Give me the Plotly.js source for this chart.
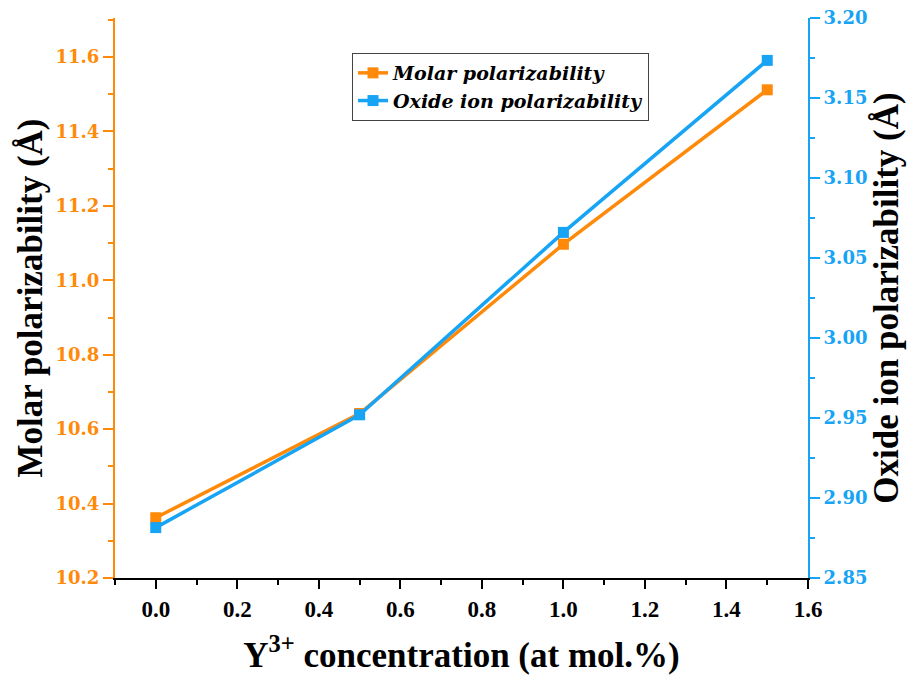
<!DOCTYPE html>
<html>
<head>
<meta charset="utf-8">
<script src="https://cdn.plot.ly/plotly-3.0.1.min.js"></script>
<style>html,body{margin:0;padding:0;background:#fff;}#chart{width:916px;height:676px;}</style>
</head>
<body>
<div id="chart"></div>
<script>
var concentration = [0.0, 0.5, 1.0, 1.5];
var molarPolarizability = [10.362, 10.642, 11.097, 11.512];
var oxidePolarizability = [2.8815, 2.952, 3.066, 3.1735];
var seriesNames = ["Molar polarizability", "Oxide ion polarizability"];

var ORANGE = "#FF8A0A";
var BLUE = "#17A4F5";
var SERIF = "Liberation Serif";
var WIDE = "DejaVu Serif";

var traces = [
  {
    x: concentration, y: molarPolarizability, name: seriesNames[0],
    type: "scatter", mode: "lines+markers",
    line: {color: ORANGE, width: 3.5},
    marker: {symbol: "square", size: 11, color: ORANGE},
    xaxis: "x", yaxis: "y"
  },
  {
    x: concentration, y: oxidePolarizability, name: seriesNames[1],
    type: "scatter", mode: "lines+markers",
    line: {color: BLUE, width: 3.5},
    marker: {symbol: "square", size: 11, color: BLUE},
    xaxis: "x", yaxis: "y2"
  }
];

var layout = {
  width: 916, height: 676,
  margin: {l: 115, r: 108, t: 18, b: 98},
  paper_bgcolor: "#fff", plot_bgcolor: "#fff",
  font: {family: SERIF, color: "#000"},
  showlegend: true,
  legend: {
    x: 0.342, y: 0.9375, xanchor: "left", yanchor: "top",
    bordercolor: "#444", borderwidth: 1, bgcolor: "#fff",
    font: {family: WIDE, size: 19, color: "#000", style: "italic", weight: 700},
    tracegroupgap: 0
  },
  xaxis: {
    range: [-0.1, 1.6], tick0: 0, dtick: 0.2, tickformat: ".1f",
    showgrid: false, zeroline: false,
    showline: true, linecolor: "#000", linewidth: 2,
    ticks: "outside", ticklen: 9, tickwidth: 2, tickcolor: "#000",
    minor: {dtick: 0.1, tick0: 0, ticks: "outside", ticklen: 5, tickwidth: 2, tickcolor: "#000"},
    tickfont: {family: SERIF, size: 23, color: "#000", weight: 700},
    title: {text: "Y<sup>3+</sup> concentration (at mol.%)", font: {family: SERIF, size: 35, color: "#000", weight: 700}, standoff: 22}
  },
  xaxis2: {
    overlaying: "x", side: "top", anchor: "y",
    range: [-0.1, 1.6], tick0: 0, dtick: 0.2,
    showticklabels: false, showgrid: false, zeroline: false,
    showline: true, linecolor: "#000", linewidth: 2,
    ticks: "inside", ticklen: 9, tickwidth: 2, tickcolor: "#000",
    minor: {dtick: 0.1, tick0: 0, ticks: "inside", ticklen: 5, tickwidth: 2, tickcolor: "#000"}
  },
  yaxis: {
    range: [10.2, 11.705], tick0: 10.2, dtick: 0.2, tickformat: ".1f",
    showgrid: false, zeroline: false,
    showline: true, linecolor: ORANGE, linewidth: 2,
    ticks: "outside", ticklen: 10, tickwidth: 2, tickcolor: ORANGE,
    minor: {dtick: 0.1, tick0: 10.2, ticks: "outside", ticklen: 5, tickwidth: 2, tickcolor: ORANGE},
    tickfont: {family: WIDE, size: 18, color: ORANGE, weight: 700},
    title: {text: "Molar polarizability (Å)", font: {family: SERIF, size: 35, color: "#000", weight: 700}, standoff: 2}
  },
  yaxis2: {
    overlaying: "y", side: "right", anchor: "x",
    range: [2.85, 3.20], tick0: 2.85, dtick: 0.05, tickformat: ".2f",
    showgrid: false, zeroline: false,
    showline: true, linecolor: BLUE, linewidth: 2,
    ticks: "outside", ticklen: 10, tickwidth: 2, tickcolor: BLUE,
    minor: {dtick: 0.025, tick0: 2.85, ticks: "outside", ticklen: 5, tickwidth: 2, tickcolor: BLUE},
    tickfont: {family: WIDE, size: 18, color: BLUE, weight: 700},
    title: {text: "Oxide ion polarizability (Å)", font: {family: SERIF, size: 35, color: "#000", weight: 700}, standoff: 3}
  }
};

Plotly.newPlot("chart", traces, layout, {staticPlot: true, displayModeBar: false});
</script>
</body>
</html>
